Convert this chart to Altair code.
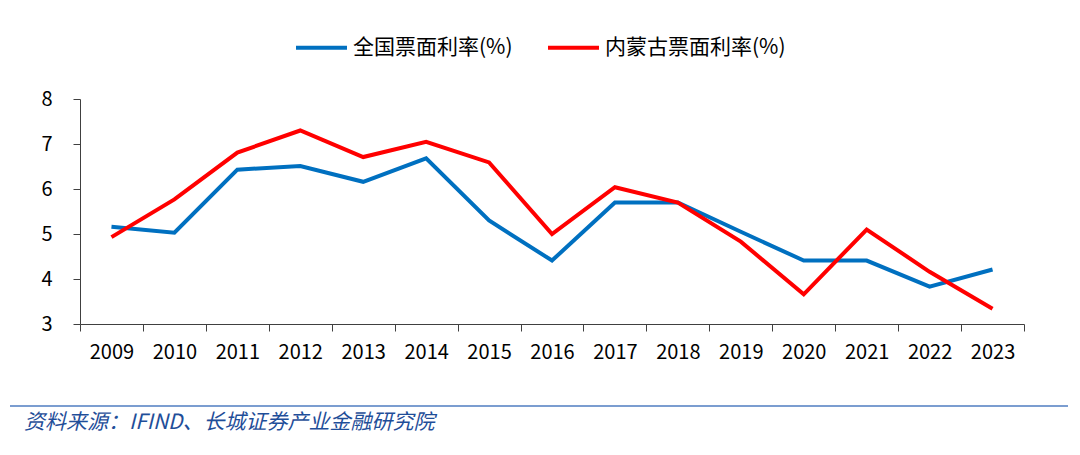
import altair as alt
import pandas as pd

years = [str(y) for y in range(2009, 2024)]
national = [5.16, 5.03, 6.43, 6.51, 6.16, 6.68, 5.30, 4.41, 5.70, 5.70, 5.05, 4.41, 4.41, 3.83, 4.21]
inner_mongolia = [4.93, 5.77, 6.81, 7.30, 6.71, 7.05, 6.59, 5.00, 6.04, 5.70, 4.83, 3.66, 5.10, 4.16, 3.34]
series_names = ["全国票面利率(%)", "内蒙古票面利率(%)"]
colors = ["#0070C0", "#FF0000"]
source_text = "资料来源：IFIND、长城证券产业金融研究院"

rows = []
for i, y in enumerate(years):
    rows.append({"year": y, "series": series_names[0], "value": national[i]})
    rows.append({"year": y, "series": series_names[1], "value": inner_mongolia[i]})
df = pd.DataFrame(rows)

FONT = "Noto Sans CJK SC"

lines = alt.Chart(df).mark_line(strokeWidth=4, strokeJoin="miter").encode(
    x=alt.X("year:O", sort=years, title=None,
            scale=alt.Scale(type="band", paddingInner=0, paddingOuter=0),
            axis=alt.Axis(labelAngle=0, tickBand="extent", labelFontSize=20,
                          labelFont=FONT, labelColor="#000000", tickSize=7,
                          labelPadding=11, domainColor="#404040", tickColor="#404040",
                          grid=False)),
    y=alt.Y("value:Q", title=None,
            scale=alt.Scale(domain=[3, 8], nice=False, zero=False),
            axis=alt.Axis(values=[3, 4, 5, 6, 7, 8], labelFontSize=20, labelFont=FONT,
                          labelColor="#000000", tickSize=7, labelPadding=21,
                          domainColor="#404040", tickColor="#404040", grid=False)),
    color=alt.Color("series:N", sort=series_names,
                    scale=alt.Scale(domain=series_names, range=colors),
                    legend=alt.Legend(title=None, orient="none", legendX=214, legendY=-79,
                                      direction="horizontal", symbolType="stroke",
                                      symbolSize=2600, symbolStrokeWidth=4,
                                      labelFontSize=21, labelFont=FONT, labelLimit=400,
                                      labelColor="#000000", columnPadding=27,
                                      labelOffset=4)),
)

rule = alt.Chart(pd.DataFrame({"a": [0]})).mark_rule(color="#4F7CC0", strokeWidth=1.5).encode(
    x=alt.value(-70), x2=alt.value(988), y=alt.value(307)
)

src = alt.Chart(pd.DataFrame({"t": [source_text]})).mark_text(
    align="left", baseline="middle", fontSize=21, font=FONT, fontStyle="italic",
    color="#1F4E99"
).encode(text="t:N", x=alt.value(-56), y=alt.value(324))

chart = alt.layer(lines, rule, src).properties(
    width=944, height=225,
    background="white",
    autosize=alt.AutoSizeParams(type="none"),
    padding={"left": 72, "top": 91, "right": 48, "bottom": 120},
).configure_view(stroke=None)

chart.save("out.html", embed_options={"renderer": "svg", "actions": False})
